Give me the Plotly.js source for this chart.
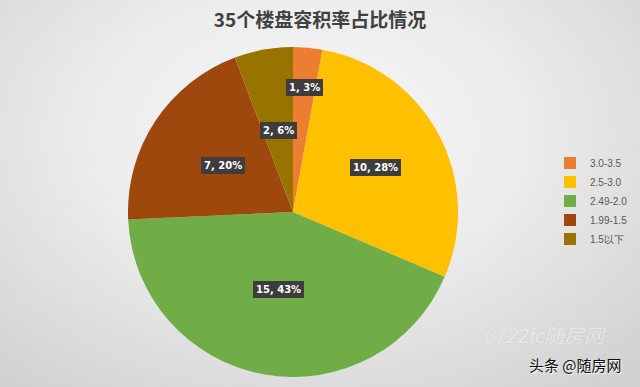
<!DOCTYPE html>
<html>
<head>
<meta charset="utf-8">
<script src="https://cdn.plot.ly/plotly-3.0.1.min.js"></script>
<style>
html,body{margin:0;padding:0;}
body{width:640px;height:387px;overflow:hidden;
background: radial-gradient(ellipse 75% 85% at 48% 35%, #f7f7f7 0%, #ececec 45%, #dadada 80%, #d0d0d0 100%);}
#chart{width:640px;height:387px;}
</style>
</head>
<body>
<div id="chart"></div>
<script>
// Data
const categories = ['3.0-3.5', '2.5-3.0', '2.49-2.0', '1.99-1.5', '1.5以下'];
const counts = [1, 10, 15, 7, 2];
const percents = [3, 28, 43, 20, 6];
const titleText = '35个楼盘容积率占比情况';

// Styles
const colors = ['#ED7D31', '#FFC000', '#70AD47', '#9E480E', '#997300'];
const labelRadius = [0.76, 0.57, 0.48, 0.51, 0.50];
const W = 640, H = 387;
const cx = 293, cy = 212, R = 165;

const domX = [(cx - R) / W, (cx + R) / W];
const domY = [(H - cy - R) / H, (H - cy + R) / H];

const trace = {
  type: 'pie',
  labels: categories,
  values: counts,
  sort: false,
  direction: 'clockwise',
  rotation: 0,
  marker: {colors: colors, line: {width: 0}},
  textinfo: 'none',
  hoverinfo: 'label+value+percent',
  domain: {x: domX, y: domY},
  showlegend: true
};

// Data labels placed at slice mid-angles computed from the values
const total = counts.reduce((a, b) => a + b, 0);
const annotations = [];
let cum = 0;
counts.forEach((v, i) => {
  const mid = (cum + v / 2) / total * 2 * Math.PI;
  cum += v;
  const r = R * labelRadius[i];
  const px = cx + r * Math.sin(mid);
  const py = cy - r * Math.cos(mid);
  annotations.push({
    x: px / W, y: (H - py) / H, xref: 'paper', yref: 'paper',
    text: counts[i] + ', ' + percents[i] + '%',
    showarrow: false,
    font: {family: 'DejaVu Sans, Verdana, sans-serif', size: 10, color: '#ffffff', weight: 'bold'},
    bgcolor: '#3d3d3d', borderpad: 3, borderwidth: 0,
    xanchor: 'center', yanchor: 'middle'
  });
});

// Watermarks
annotations.push({
  x: 545 / W, y: (H - 334) / H, xref: 'paper', yref: 'paper', showarrow: false,
  text: '<i>0722fc随房网</i>',
  font: {family: 'Noto Sans CJK SC, sans-serif', size: 20, color: 'rgba(255,255,255,0.6)', shadow: '0px 0px 1px rgba(150,150,150,0.6)'},
  xanchor: 'center', yanchor: 'middle'
});
annotations.push({
  x: 575 / W, y: (H - 364) / H, xref: 'paper', yref: 'paper', showarrow: false,
  text: '头条 @随房网',
  font: {family: 'Noto Sans CJK SC, sans-serif', size: 15, color: '#111111', shadow: '1px 1px 1px #ffffff'},
  xanchor: 'center', yanchor: 'middle'
});

const layout = {
  width: W, height: H,
  margin: {l: 0, r: 0, t: 0, b: 0, autoexpand: false},
  paper_bgcolor: 'rgba(0,0,0,0)',
  plot_bgcolor: 'rgba(0,0,0,0)',
  title: {
    text: '<b>' + titleText + '</b>',
    x: 0.5, xanchor: 'center', y: 1 - 20 / H, yanchor: 'middle',
    font: {family: 'Noto Sans CJK SC, sans-serif', size: 19, color: '#404040'}
  },
  legend: {
    x: 550 / W, y: (H - 201) / H, xanchor: 'left', yanchor: 'middle',
    font: {family: 'Liberation Sans, Arial, sans-serif', size: 10, color: '#595959'},
    bgcolor: 'rgba(0,0,0,0)', itemwidth: 30, tracegroupgap: 0
  },
  annotations: annotations
};

Plotly.newPlot('chart', [trace], layout, {displayModeBar: false, staticPlot: true});
</script>
</body>
</html>
